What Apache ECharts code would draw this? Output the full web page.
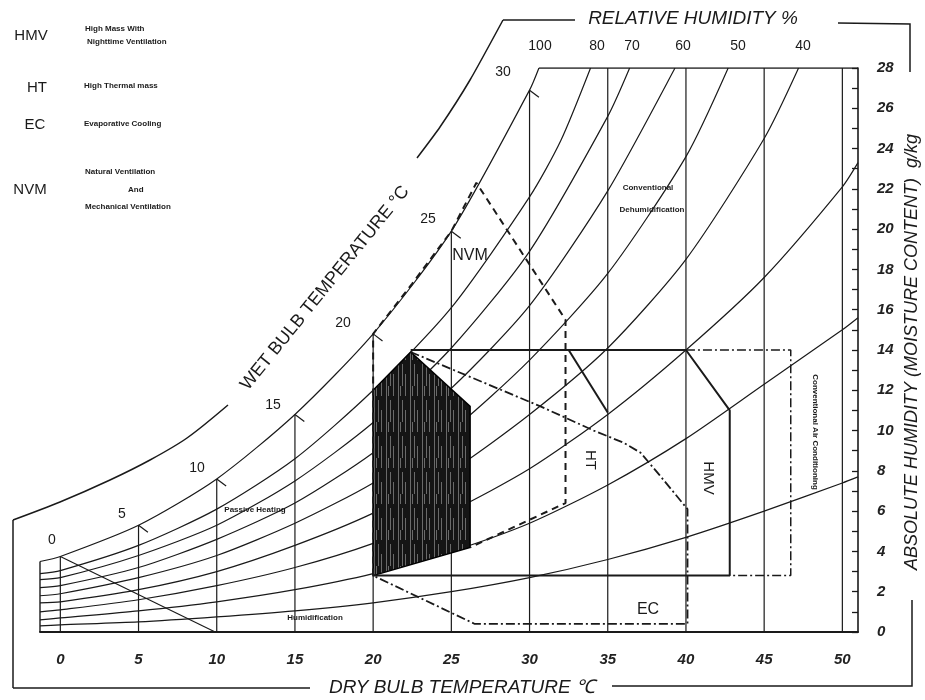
<!DOCTYPE html>
<html><head><meta charset="utf-8">
<script src="https://cdn.jsdelivr.net/npm/echarts@6/dist/echarts.min.js"></script>
<style>html,body{margin:0;padding:0;background:#fff}#c{width:925px;height:700px}</style>
</head><body><div id="c"></div>
<script>
// ---- tick labels ----
const dryBulbTicks = [0,5,10,15,20,25,30,35,40,45,50];
const humidityTicks = [0,2,4,6,8,10,12,14,16,18,20,22,24,26,28];
const rhLabels = ['100','80','70','60','50','40'];
const wetBulbLabels = ['0','5','10','15','20','25','30'];

// ---- relative humidity curves [dry bulb °C, g/kg] ----
const rh100 = [[-1.3,3.5],[0,3.75],[5,5.3],[10,7.6],[15,10.8],[20,14.8],[25,19.9],[30,26.9],[30.6,28]];
const rh80 = [[-1.3,2.9],[0,3.05],[5,4.3],[10,6.1],[15,8.6],[20,12.0],[25,16.1],[30,21.6],[32,24.4],[33.9,28]];
const rh70 = [[-1.3,2.6],[0,2.7],[5,3.8],[10,5.3],[15,7.5],[20,10.4],[25,14.1],[30,18.9],[35,25.6],[36.4,28]];
const rh60 = [[-1.3,2.2],[0,2.3],[5,3.2],[10,4.6],[15,6.4],[20,8.9],[25,12.1],[30,16.2],[35,21.9],[39.3,28]];
const rh50 = [[-1.3,1.8],[0,1.9],[5,2.7],[10,3.8],[15,5.4],[20,7.4],[25,10.0],[30,13.5],[35,17.8],[40,23.6],[42.7,28]];
const rh40 = [[-1.3,1.45],[0,1.5],[5,2.1],[10,3.0],[15,4.3],[20,5.9],[25,8.0],[30,10.8],[35,14.1],[40,18.5],[45,24.5],[47.2,28]];
const rh30 = [[-1.3,1.0],[0,1.1],[5,1.6],[10,2.3],[15,3.2],[20,4.4],[25,6.0],[30,8.1],[35,10.8],[40,14.0],[45,17.6],[50,22.1],[51,23.3]];
const rh20 = [[-1.3,0.6],[0,0.7],[5,1.05],[10,1.5],[15,2.1],[20,2.9],[25,4.0],[30,5.4],[35,7.3],[40,9.6],[45,12.3],[50,15.0],[51,15.6]];
const rh10 = [[-1.3,0.3],[0,0.35],[5,0.5],[10,0.75],[15,1.05],[20,1.45],[25,2.0],[30,2.7],[35,3.6],[40,4.7],[45,6.0],[50,7.4],[51,7.7]];

// top of each dry-bulb line (where it meets saturation or the top border)
const dryBulbTop = [3.75,5.3,7.6,10.8,14.8,19.9,26.9,28,28,28,28];
// wet bulb 0 °C line
const wetBulb0 = [[0,3.75],[9.9,0]];
// wet bulb scale points on the saturation curve (5..30)
const wetBulbPts = [[5,5.3],[10,7.6],[15,10.8],[20,14.8],[25,19.9],[30,26.9]];

// ---- strategy zones ----
const comfortZone = [[20,2.8],[20,12.0],[22.4,13.9],[26.2,11.2],[26.2,4.2]];
const nvmZone = [[20,2.8],[20,14.8],[22.5,17.3],[25,19.9],[26.6,22.3],[32.3,15.5],[32.3,6.4],[26.2,4.2]];
const ecZone = [[22.4,13.9],[30.7,11.2],[34.1,10.0],[36,9.4],[37.1,8.9],[38.3,7.8],[40.1,6.1],[40.1,0.4],[26.5,0.4],[20,2.8]];
const mainBox = [[22.4,14],[40,14],[42.8,11],[42.8,2.8],[20,2.8]];
const htEdge = [[32.5,14],[35,10.9]];
const acBox = [[40,14],[46.7,14],[46.7,2.8],[42.8,2.8]];
const topBorder = [[30.6,28],[51,28]];
const leftBorder = [[-1.3,0],[-1.3,3.5]];

const FONT = 'Liberation Sans, Arial, sans-serif';
const INK = '#1a1a1a';

function ln(data, o) {
  o = o || {};
  return {type:'line', data:data, symbol:'none', silent:true, animation:false,
    smooth:o.smooth||false, clip:true, z:o.z||2,
    lineStyle:{color:INK, width:o.w||1, type:o.type||'solid'}};
}

function makePattern(){
  const c=document.createElement('canvas'); c.width=12; c.height=36;
  const g=c.getContext('2d'); g.fillStyle='#151515'; g.fillRect(0,0,12,36);
  g.fillStyle='rgba(210,210,210,0.45)';
  g.fillRect(2,0,1,36); g.fillRect(6,4,1,22); g.fillRect(9,14,1,22); g.fillRect(4,26,1,10);
  return c;
}
const pattern = {image:makePattern(), repeat:'repeat'};

const series = [];
[rh100,rh80,rh70,rh60,rh50,rh40,rh30,rh20,rh10].forEach(c=>series.push(ln(c,{smooth:0.25,w:1.2})));
dryBulbTicks.forEach((t,i)=>series.push(ln([[t,0],[t,dryBulbTop[i]]],{w:1.2})));
series.push(ln(wetBulb0,{w:1.2}));
wetBulbPts.forEach(p=>series.push(ln([p,[p[0]+0.6,p[1]-0.35]],{w:1.2})));
series.push(ln(topBorder,{w:1.6}));
series.push(ln(leftBorder,{w:1.4}));
// comfort zone (dark hatched)
series.push({type:'custom', silent:true, animation:false, z:5, data:[[20,2.8]],
  renderItem:function(params, api){
    return {type:'polygon', shape:{points:comfortZone.map(p=>api.coord(p))},
      style:{fill:pattern, stroke:'#000', lineWidth:1.5}};
  }});
series.push(ln(mainBox,{w:2,z:6}));
series.push(ln(htEdge,{w:2,z:6}));
series.push(ln(nvmZone,{w:2,type:[7,5],z:6}));
series.push(ln(ecZone,{w:1.8,type:[9,3,2,3],z:6}));
series.push(ln(acBox,{w:1.5,type:[9,3,2,3],z:6}));

function txt(x,y,text,size,extra){
  return Object.assign({type:'text', x:x, y:y, silent:true,
    style:{text:text, font:(extra&&extra.font)||(size+'px '+FONT), fill:INK, align:'center', verticalAlign:'middle'}}, extra&&extra.el||{});
}
const small = 'bold 8px '+FONT;
const graphics = [
  // legend
  txt(31,36,'HMV',15), txt(37,88,'HT',15), txt(35,125,'EC',15), txt(30,190,'NVM',15),
  {type:'text',x:85,y:29,silent:true,style:{text:'High Mass With',font:small,fill:INK,verticalAlign:'middle'}},
  {type:'text',x:87,y:42,silent:true,style:{text:'Nighttime Ventilation',font:small,fill:INK,verticalAlign:'middle'}},
  {type:'text',x:84,y:86,silent:true,style:{text:'High Thermal mass',font:small,fill:INK,verticalAlign:'middle'}},
  {type:'text',x:84,y:124,silent:true,style:{text:'Evaporative Cooling',font:small,fill:INK,verticalAlign:'middle'}},
  {type:'text',x:85,y:172,silent:true,style:{text:'Natural Ventilation',font:small,fill:INK,verticalAlign:'middle'}},
  {type:'text',x:128,y:190,silent:true,style:{text:'And',font:small,fill:INK,verticalAlign:'middle'}},
  {type:'text',x:85,y:207,silent:true,style:{text:'Mechanical Ventilation',font:small,fill:INK,verticalAlign:'middle'}},
  // RH labels
  txt(540,46,rhLabels[0],14), txt(597,46,rhLabels[1],14), txt(632,46,rhLabels[2],14),
  txt(683,46,rhLabels[3],14), txt(738,46,rhLabels[4],14), txt(803,46,rhLabels[5],14),
  // wet bulb labels
  txt(52,540,wetBulbLabels[0],14), txt(122,514,wetBulbLabels[1],14), txt(197,468,wetBulbLabels[2],14),
  txt(273,405,wetBulbLabels[3],14), txt(343,323,wetBulbLabels[4],14), txt(428,219,wetBulbLabels[5],14),
  txt(503,72,wetBulbLabels[6],14),
  // titles
  txt(693,19,'RELATIVE HUMIDITY %',0,{font:'italic 19px '+FONT}),
  txt(462,688,'DRY BULB TEMPERATURE \u2103',0,{font:'italic 19px "Liberation Sans Narrow", '+FONT}),
  txt(325,288,'WET BULB TEMPERATURE \u00b0C',0,{font:'18px '+FONT, el:{rotation:51*Math.PI/180}}),
  txt(912,352,'ABSOLUTE HUMIDITY (MOISTURE CONTENT)  g/kg',0,{font:'italic 18px '+FONT, el:{rotation:Math.PI/2}}),
  // zone labels
  txt(470,256,'NVM',16), txt(648,610,'EC',16),
  txt(590,460,'HT',15,{el:{rotation:-Math.PI/2}}),
  txt(708,478,'HMV',15,{el:{rotation:-Math.PI/2}}),
  txt(648,188,'Conventional',0,{font:small}),
  txt(652,210,'Dehumidification',0,{font:small}),
  txt(815,432,'Conventional Air Conditioning',0,{font:small, el:{rotation:-Math.PI/2}}),
  txt(255,510,'Passive Heating',0,{font:small}),
  txt(315,618,'Humidification',0,{font:small}),
  // outer frame
  {type:'polyline',silent:true,shape:{points:[[13,688],[13,520]]},style:{stroke:INK,lineWidth:1.5,fill:null}},
  {type:'polyline',silent:true,shape:{points:[[13,520],[60,502],[110,480],[150,460],[187,438],[228,405]],smooth:0.3},style:{stroke:INK,lineWidth:1.5,fill:null}},
  {type:'polyline',silent:true,shape:{points:[[417,158],[440,127],[470,80],[503,20]],smooth:0.2},style:{stroke:INK,lineWidth:1.5,fill:null}},
  {type:'polyline',silent:true,shape:{points:[[503,20],[575,20]]},style:{stroke:INK,lineWidth:1.5,fill:null}},
  {type:'polyline',silent:true,shape:{points:[[838,23],[910,24],[910,72]]},style:{stroke:INK,lineWidth:1.5,fill:null}},
  {type:'polyline',silent:true,shape:{points:[[912,600],[912,686],[612,686]]},style:{stroke:INK,lineWidth:1.5,fill:null}},
  {type:'polyline',silent:true,shape:{points:[[13,688],[310,688]]},style:{stroke:INK,lineWidth:1.5,fill:null}}
];

const chart = echarts.init(document.getElementById('c'), null, {renderer:'canvas'});
chart.setOption({
  backgroundColor:'#fff',
  animation:false,
  grid:{left:40,right:67,top:68,bottom:68,outerBoundsMode:'none',containLabel:false},
  xAxis:{type:'value',min:-1.3,max:51,splitLine:{show:false},
    axisLine:{show:true,onZero:false,lineStyle:{color:INK,width:2}},
    axisTick:{show:false},
    axisLabel:{customValues:dryBulbTicks,fontStyle:'italic',fontWeight:'bold',fontSize:15,color:'#222',margin:20,fontFamily:FONT}},
  yAxis:{type:'value',position:'right',min:0,max:28,interval:1,splitLine:{show:false},
    axisLine:{show:true,onZero:false,lineStyle:{color:INK,width:1.6}},
    axisTick:{show:true,inside:true,length:6,lineStyle:{color:INK,width:1.3}},
    axisLabel:{fontStyle:'italic',fontWeight:'bold',fontSize:15,color:'#222',margin:19,fontFamily:FONT,
      formatter:function(v){return humidityTicks.indexOf(v)>=0?String(v):'';}}},
  series:series,
  graphic:graphics
});
</script></body></html>
